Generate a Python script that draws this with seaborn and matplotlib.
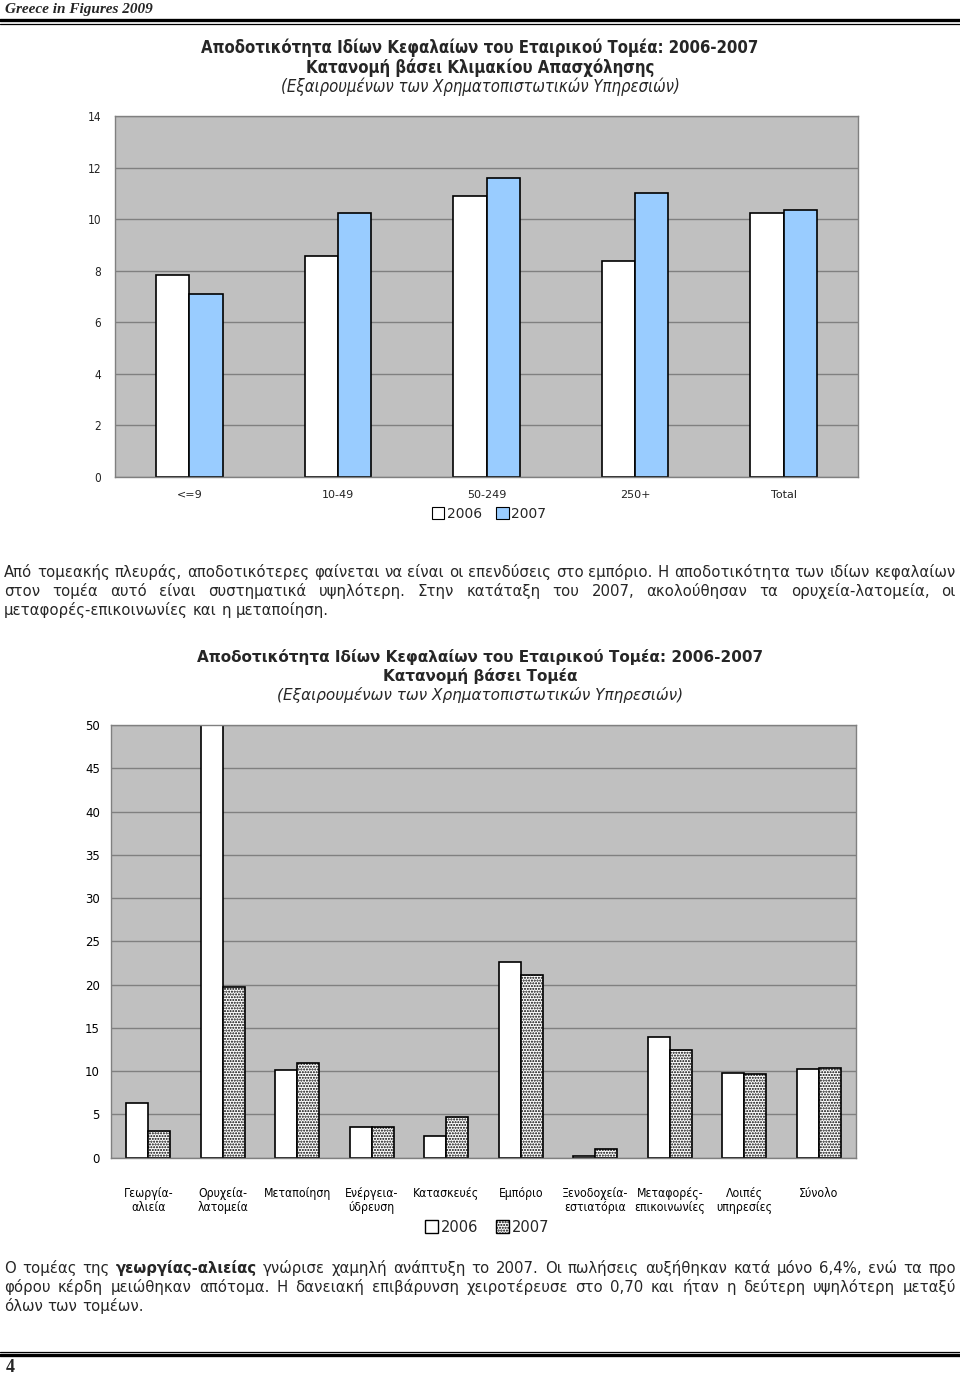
import numpy as np
import pandas as pd
import matplotlib
matplotlib.use("Agg")
from matplotlib import pyplot as plt
from matplotlib.lines import Line2D
from matplotlib.patches import Patch
import seaborn as sns

# values
size_classes = ['<=9', '10-49', '50-249', '250+', 'Total']
roe_size_2006 = [7.83, 8.58, 10.9, 8.39, 10.25]
roe_size_2007 = [7.08, 10.25, 11.59, 11.02, 10.34]

sectors = ['Γεωργία-\nαλιεία', 'Ορυχεία-\nλατομεία', 'Μεταποίηση', 'Ενέργεια-\nύδρευση',
           'Κατασκευές', 'Εμπόριο', 'Ξενοδοχεία-\nεστιατόρια', 'Μεταφορές-\nεπικοινωνίες',
           'Λοιπές\nυπηρεσίες', 'Σύνολο']
roe_sector_2006 = [6.35, 55.0, 10.08, 3.5, 2.47, 22.57, 0.15, 13.96, 9.8, 10.23]
roe_sector_2007 = [3.08, 19.73, 11.0, 3.53, 4.7, 21.15, 1.04, 12.42, 9.69, 10.31]

years = ['2006', '2007']

title1 = ['Αποδοτικότητα Ιδίων Κεφαλαίων του Εταιρικού Τομέα: 2006-2007',
          'Κατανομή βάσει Κλιμακίου Απασχόλησης',
          '(Εξαιρουμένων των Χρηματοπιστωτικών Υπηρεσιών)']
title2 = ['Αποδοτικότητα Ιδίων Κεφαλαίων του Εταιρικού Τομέα: 2006-2007',
          'Κατανομή βάσει Τομέα',
          '(Εξαιρουμένων των Χρηματοπιστωτικών Υπηρεσιών)']

para1 = ['Από τομεακής πλευράς, αποδοτικότερες φαίνεται να είναι οι επενδύσεις στο εμπόριο. Η αποδοτικότητα των ιδίων κεφαλαίων',
         'στον τομέα αυτό είναι συστηματικά υψηλότερη. Στην κατάταξη του 2007, ακολούθησαν τα ορυχεία-λατομεία, οι',
         'μεταφορές-επικοινωνίες και η μεταποίηση.']
para2 = ['Ο τομέας της *γεωργίας-αλιείας* γνώρισε χαμηλή ανάπτυξη το 2007. Οι πωλήσεις αυξήθηκαν κατά μόνο 6,4%, ενώ τα προ',
         'φόρου κέρδη μειώθηκαν απότομα. Η δανειακή επιβάρυνση χειροτέρευσε στο 0,70 και ήταν η δεύτερη υψηλότερη μεταξύ',
         'όλων των τομέων.']

df_size = pd.DataFrame({'class': size_classes, '2006': roe_size_2006, '2007': roe_size_2007})
df_size = df_size.melt(id_vars='class', var_name='year', value_name='roe')
df_sector = pd.DataFrame({'sector': sectors, '2006': roe_sector_2006, '2007': roe_sector_2007})
df_sector = df_sector.melt(id_vars='sector', var_name='year', value_name='roe')

sns.set_style("white")
plt.rcParams['font.family'] = ['DejaVu Sans']

W, H = 960, 1376
fig = plt.figure(figsize=(9.6, 13.76), dpi=100)


def fy(y):
    return 1 - y / H


GRID = '#808080'
BG = '#C0C0C0'


def style_axes(ax, n, ymax, ystep, lab_size, lab_color, xpad, ypad):
    ax.set_facecolor(BG)
    ax.set_ylim(0, ymax)
    ax.set_xlim(-0.5, n - 0.5)
    ax.set_yticks(np.arange(0, ymax + 0.1, ystep))
    ax.yaxis.grid(True, color=GRID, lw=1)
    ax.xaxis.grid(False)
    ax.set_axisbelow(True)
    for s in ax.spines.values():
        s.set_color(GRID)
        s.set_linewidth(1)
    ax.set_xticks(np.arange(-0.5, n, 1), minor=True)
    ax.tick_params(axis='x', which='minor', length=4, color=GRID, direction='out')
    ax.tick_params(axis='x', which='major', length=0, pad=xpad, labelsize=lab_size, labelcolor=lab_color)
    ax.tick_params(axis='y', length=4, color=GRID, direction='out', labelsize=lab_size,
                   labelcolor=lab_color, pad=ypad)
    ax.set_xlabel('')
    ax.set_ylabel('')


# ---- chart 1: by size class
ax1 = fig.add_axes([115 / W, fy(477), 743 / W, 361 / H])
sns.barplot(data=df_size, x='class', y='roe', hue='year', palette=['white', '#99CCFF'],
            saturation=1, edgecolor='black', linewidth=1.2, width=0.448, ax=ax1, legend=False)
style_axes(ax1, len(size_classes), 14, 2, 8, '#222222', 9, 6)
ax1.set_yticklabels([str(v) for v in range(0, 15, 2)], fontstretch='condensed', fontsize=8.5)

for i, line in enumerate(title1):
    fig.text(0.5, fy(48 + 19.5 * i), line, ha='center', va='center', size=12,
             weight='bold' if i < 2 else 'normal', style='italic' if i == 2 else 'normal',
             fontstretch='condensed')

fig.legend(handles=[Patch(facecolor='white', edgecolor='black', lw=0.8),
                    Patch(facecolor='#99CCFF', edgecolor='black', lw=0.8)],
           labels=years, loc='center', bbox_to_anchor=(489 / W, fy(514)), ncol=2, frameon=False,
           fontsize=10, handlelength=0.9, handleheight=0.9, handletextpad=0.2, columnspacing=1.0)

# ---- chart 2: by sector
ax2 = fig.add_axes([111 / W, fy(1157.7), 745 / W, 432.7 / H])
sns.barplot(data=df_sector, x='sector', y='roe', hue='year', palette=['white', 'white'],
            saturation=1, edgecolor='black', linewidth=1.2, width=0.59, ax=ax2, legend=False)
for bar in ax2.containers[1]:
    bar.set_hatch('......')
style_axes(ax2, len(sectors), 50, 5, 8.5, 'black', 21, 4)
for lab in ax2.get_xticklabels():
    lab.set_va('top')
    lab.set_linespacing(1.15)
    lab.set_fontsize(8.7)
    lab.set_fontstretch('condensed')

for i, line in enumerate(title2):
    fig.text(0.5, fy(657 + 19 * i), line, ha='center', va='center', size=11,
             weight='bold' if i < 2 else 'normal', style='italic' if i == 2 else 'normal')

fig.legend(handles=[Patch(facecolor='white', edgecolor='black', lw=1),
                    Patch(facecolor='white', edgecolor='black', lw=1, hatch='......')],
           labels=years, loc='center', bbox_to_anchor=(487 / W, fy(1227)), ncol=2, frameon=False,
           fontsize=10.5, handlelength=0.9, handleheight=0.9, handletextpad=0.2, columnspacing=1.2)

# ---- page text
renderer = fig.canvas.get_renderer()


def justified(lines, y0, step, x0=4, x1=956, size=10.7):
    for k, line in enumerate(lines):
        words = line.split()
        y = fy(y0 + k * step + 5)
        items = []
        for w in words:
            bold = w.startswith('*')
            items.append(fig.text(0, y, w.replace('*', ''), va='baseline', size=size,
                                  weight='bold' if bold else 'normal'))
        widths = [t.get_window_extent(renderer).width for t in items]
        if k == len(lines) - 1:
            gap = size * 0.32 * 100 / 72
        else:
            gap = (x1 - x0 - sum(widths)) / (len(items) - 1)
        x = x0
        for t, w in zip(items, widths):
            t.set_x(x / W)
            x += w + gap


justified(para1, 572, 19)
justified(para2, 1268, 19)

fig.text(5 / W, fy(9), 'Greece in Figures 2009', family='Liberation Serif', style='italic',
         weight='bold', size=11, va='center')
fig.add_artist(Line2D([0, 1], [fy(20.2), fy(20.2)], transform=fig.transFigure, color='black', lw=2.4))
fig.add_artist(Line2D([0, 1], [fy(23.5), fy(23.5)], transform=fig.transFigure, color='black', lw=0.9))
fig.add_artist(Line2D([0, 1], [fy(1351.5), fy(1351.5)], transform=fig.transFigure, color='black', lw=0.9))
fig.add_artist(Line2D([0, 1], [fy(1354.5), fy(1354.5)], transform=fig.transFigure, color='black', lw=2.4))
fig.text(6 / W, fy(1367), '4', family='Liberation Serif', weight='bold', size=13, va='center')

fig.savefig('out.png', dpi=100, facecolor='white')
